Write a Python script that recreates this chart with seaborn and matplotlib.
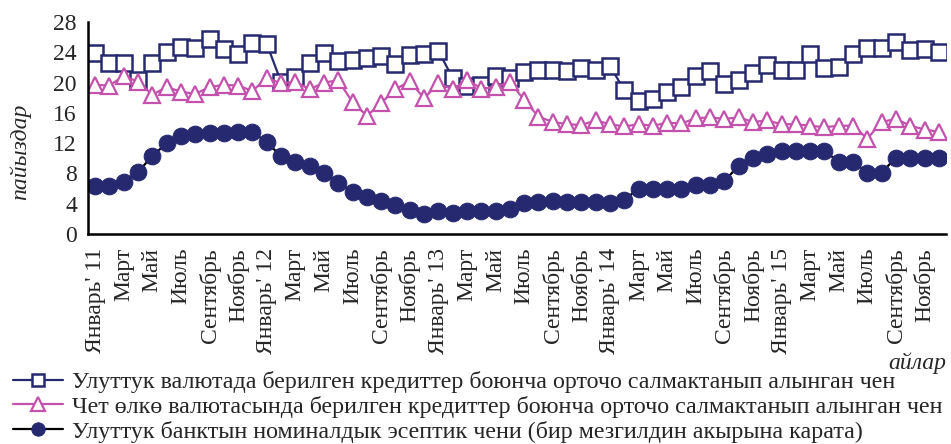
import numpy as np
import pandas as pd
import matplotlib
matplotlib.use("Agg")
import matplotlib.pyplot as plt
import seaborn as sns

# month names, tick label every second month
month_names = ["Январь", "Февраль", "Март", "Апрель", "Май", "Июнь",
               "Июль", "Август", "Сентябрь", "Октябрь", "Ноябрь", "Декабрь"]
years = ["11", "12", "13", "14", "15"]

# national currency loans, weighted average rate
national = [23.9, 22.6, 22.6, 20.3, 22.6, 24.1, 24.7, 24.5, 25.7, 24.4, 23.8, 25.2,
            25.1, 20.1, 20.7, 22.6, 23.9, 22.9, 23.0, 23.3, 23.5, 22.5, 23.7, 23.8,
            24.2, 20.6, 19.6, 19.7, 20.9, 20.6, 21.4, 21.6, 21.7, 21.5, 21.9, 21.7,
            22.2, 19.0, 17.6, 17.8, 18.7, 19.4, 20.9, 21.5, 19.8, 20.3, 21.3, 22.3,
            21.7, 21.7, 23.8, 21.9, 22.1, 23.8, 24.6, 24.5, 25.4, 24.3, 24.4, 24.1]

# foreign currency loans, weighted average rate
foreign = [19.7, 19.6, 20.9, 20.1, 18.4, 19.4, 18.8, 18.5, 19.4, 19.7, 19.6, 18.9,
           20.6, 19.9, 20.1, 19.1, 20.0, 20.3, 17.4, 15.6, 17.3, 19.1, 20.2, 17.9,
           19.9, 19.1, 20.4, 19.2, 19.4, 20.1, 17.7, 15.5, 14.8, 14.5, 14.4, 15.0,
           14.5, 14.2, 14.5, 14.3, 14.7, 14.6, 15.3, 15.4, 15.2, 15.4, 14.8, 15.0,
           14.5, 14.5, 14.3, 14.1, 14.3, 14.3, 12.6, 14.8, 15.2, 14.3, 13.8, 13.5]

# policy rate of the national bank (end of period)
policy = [6.3, 6.4, 6.9, 8.2, 10.3, 12.0, 12.9, 13.2, 13.4, 13.4, 13.5, 13.5,
          12.1, 10.3, 9.5, 9.0, 8.0, 6.8, 5.6, 4.9, 4.3, 3.8, 3.2, 2.7,
          3.1, 2.8, 3.0, 3.0, 3.0, 3.3, 4.1, 4.2, 4.3, 4.2, 4.2, 4.2,
          4.1, 4.5, 6.0, 6.0, 6.0, 6.0, 6.5, 6.5, 7.0, 9.0, 10.1, 10.5,
          11.0, 11.0, 11.0, 11.0, 9.5, 9.5, 8.1, 8.1, 10.1, 10.1, 10.1, 10.1]

labels = ["Улуттук валютада берилген кредиттер боюнча орточо салмактанып алынган чен",
          "Чет өлкө валютасында берилген кредиттер боюнча орточо салмактанып алынган чен",
          "Улуттук банктын номиналдык эсептик чени (бир мезгилдин акырына карата)"]

sns.set_style("white")
plt.rcParams["font.family"] = ["Liberation Serif", "DejaVu Serif"]
plt.rcParams["font.size"] = 17

df = pd.DataFrame({"idx": np.arange(len(national)), "national": national,
                   "foreign": foreign, "policy": policy})

navy = "#26296f"
pink = "#c452ad"

fig = plt.figure(figsize=(9.51, 4.44), dpi=100)
ax = fig.add_axes([88 / 951, 1 - 234 / 444, (946 - 88) / 951, (234 - 22) / 444])

sns.lineplot(data=df, x="idx", y="national", ax=ax, color=navy, lw=1.6,
             marker="s", markersize=11, markerfacecolor="white",
             markeredgecolor=navy, markeredgewidth=1.8, label=labels[0])
sns.lineplot(data=df, x="idx", y="foreign", ax=ax, color=pink, lw=1.6,
             marker="^", markersize=12, markerfacecolor="white",
             markeredgecolor=pink, markeredgewidth=1.6, label=labels[1])
sns.lineplot(data=df, x="idx", y="policy", ax=ax, color="black", lw=1.6,
             marker="o", markersize=12, markerfacecolor=navy,
             markeredgecolor=navy, label=labels[2])

ax.set_xlim(-0.5, len(national) - 0.5)
ax.set_ylim(0, 28)
ax.set_yticks(range(0, 29, 4))

tick_labels = []
for y in years:
    for m in range(0, 12, 2):
        tick_labels.append(f"{month_names[m]}' {y}" if m == 0 else month_names[m])
ax.set_xticks(np.arange(0, len(national), 2))
ax.set_xticklabels(tick_labels, rotation=90)
ax.set_xticks(np.arange(-0.5, len(national)), minor=True)
ax.tick_params(axis="x", which="major", length=0, pad=10)
ax.tick_params(axis="x", which="minor", length=6, width=1.5, direction="out")
ax.tick_params(axis="y", length=6, width=1.5, direction="out", pad=2)
ax.set_xlabel("")
ax.set_ylabel("")

for s in ["top", "right"]:
    ax.spines[s].set_visible(False)
for s in ["left", "bottom"]:
    ax.spines[s].set_linewidth(1.8)
    ax.spines[s].set_color("black")

ax.get_legend().remove()
fig.text(20 / 951, 1 - 152 / 444, "пайыздар", rotation=90, style="italic",
         ha="center", va="center", fontsize=17)
fig.text(946 / 951, 1 - 363 / 444, "айлар", style="italic",
         ha="right", va="center", fontsize=17)

handles, lbls = ax.get_legend_handles_labels()
fig.legend(handles, lbls, loc="upper left", bbox_to_anchor=(13 / 951, 1 - 371 / 444),
           frameon=False, handlelength=2.1, handletextpad=0.35, labelspacing=0.12,
           borderpad=0, borderaxespad=0, fontsize=17.3, markerscale=0.8)

fig.savefig("out.png", dpi=100)
